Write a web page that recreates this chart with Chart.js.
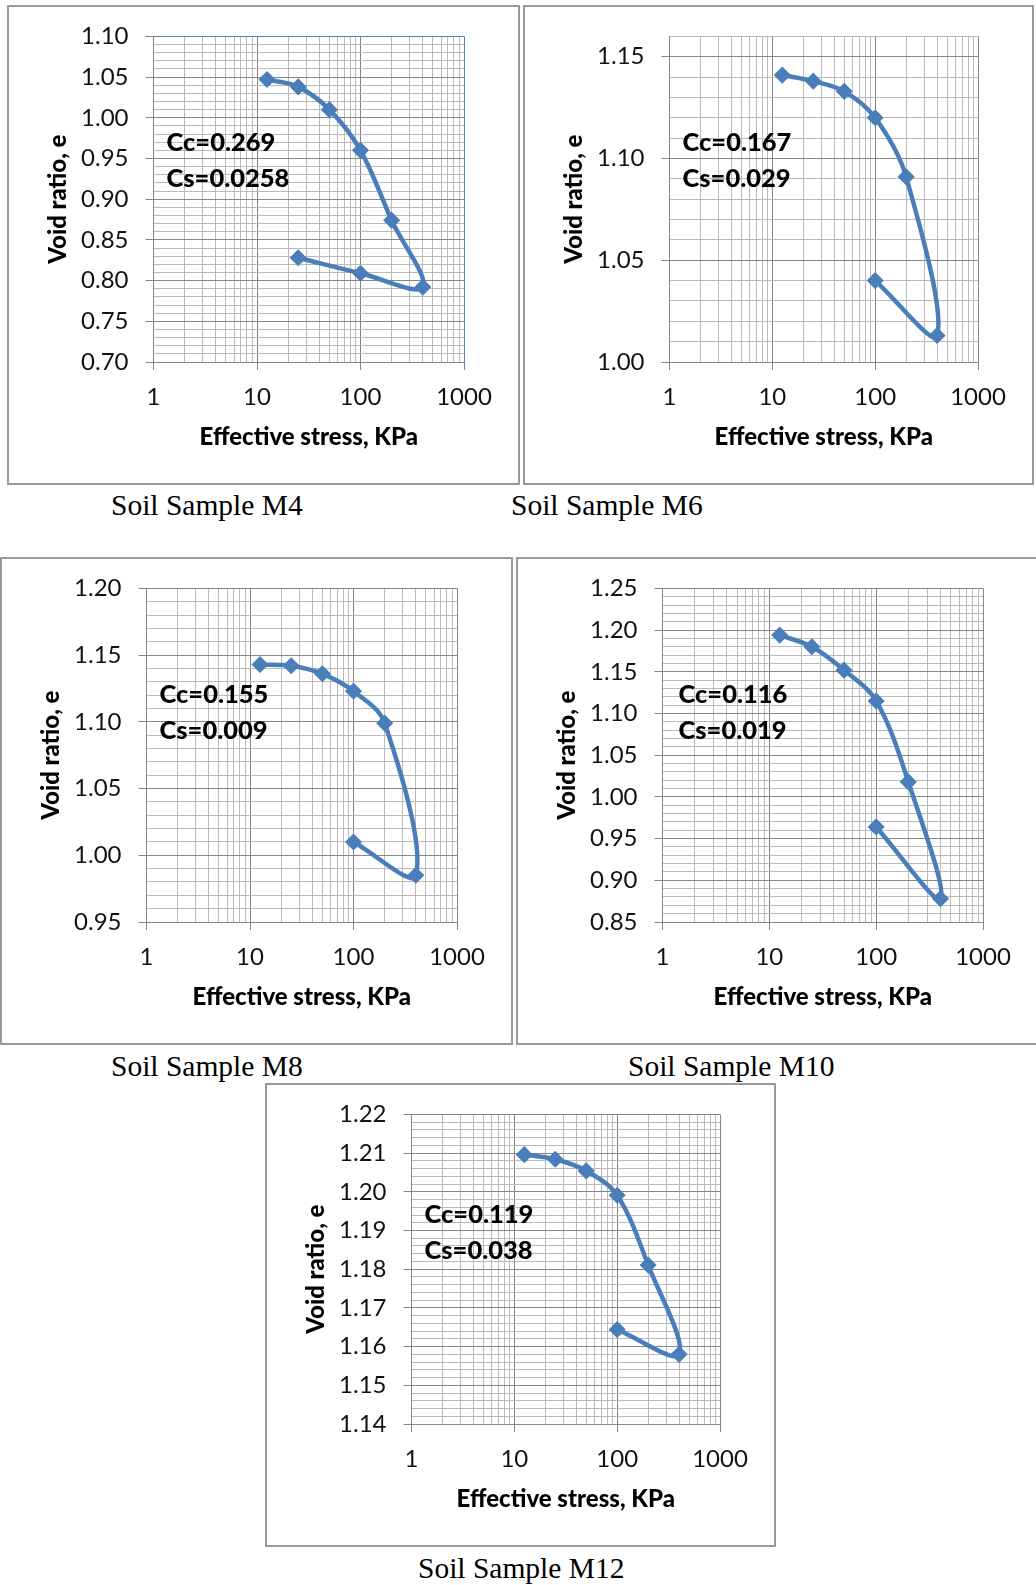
<!DOCTYPE html>
<html>
<head>
<meta charset="utf-8">
<script src="https://cdn.jsdelivr.net/npm/chart.js@4.4.1/dist/chart.umd.min.js"></script>
<style>
  html, body { margin: 0; padding: 0; background: #fff; }
  body { width: 1036px; height: 1585px; position: relative; overflow: hidden; }
  .frame { position: absolute; box-sizing: border-box; border: 2px solid #9a9a9a; }
  canvas.plot { position: absolute; }
  .caption {
    position: absolute; white-space: nowrap; color: #000;
    font-family: "Liberation Serif", "Times New Roman", serif;
    font-size: 29.5px; line-height: 29px;
  }
</style>
</head>
<body>
<script>
// Oedometer results: effective stress (kPa) for the loading steps followed by unloading
const stressM4  = [12.5, 25, 50, 100, 200, 400, 100, 25];
const stressM6  = [12.5, 25, 50, 100, 200, 400, 100];
const stressM8  = [12.5, 25, 50, 100, 200, 400, 100];
const stressM10 = [12.5, 25, 50, 100, 200, 400, 100];
const stressM12 = [12.5, 25, 50, 100, 200, 400, 100];

// Void ratio at each stress step
const voidM4  = [1.047, 1.038, 1.010, 0.960, 0.874, 0.792, 0.809, 0.828];
const voidM6  = [1.141, 1.138, 1.133, 1.120, 1.091, 1.013, 1.040];
const voidM8  = [1.143, 1.142, 1.136, 1.123, 1.099, 0.985, 1.010];
const voidM10 = [1.194, 1.180, 1.152, 1.115, 1.018, 0.878, 0.964];
const voidM12 = [1.2096, 1.2084, 1.2054, 1.1991, 1.1811, 1.1580, 1.1644];

// Compression and swelling indices
const ccValues = ['0.269', '0.167', '0.155', '0.116', '0.119'];
const csValues = ['0.0258', '0.029', '0.009', '0.019', '0.038'];

// Axis tick labels
const xTickLabels   = ['1', '10', '100', '1000'];
const yTicksM4  = ['0.70', '0.75', '0.80', '0.85', '0.90', '0.95', '1.00', '1.05', '1.10'];
const yTicksM6  = ['1.00', '1.05', '1.10', '1.15'];
const yTicksM8  = ['0.95', '1.00', '1.05', '1.10', '1.15', '1.20'];
const yTicksM10 = ['0.85', '0.90', '0.95', '1.00', '1.05', '1.10', '1.15', '1.20', '1.25'];
const yTicksM12 = ['1.14', '1.15', '1.16', '1.17', '1.18', '1.19', '1.20', '1.21', '1.22'];

const sampleNames = ['Soil Sample M4', 'Soil Sample M6', 'Soil Sample M8', 'Soil Sample M10', 'Soil Sample M12'];

// Panel geometry and axis ranges
const panels = [
  { stress: stressM4,  e: voidM4,  yTicks: yTicksM4,  yMin: 0.70, yMax: 1.10, minor: 0.01,  box: [7, 5, 513, 480],    blueEdge: true,  note: [13, 106.5], cap: [111, 515] },
  { stress: stressM6,  e: voidM6,  yTicks: yTicksM6,  yMin: 1.00, yMax: 1.16, minor: 0.01,  box: [523, 5, 511, 480],  blueEdge: false, note: [13, 106.5], cap: [511, 515] },
  { stress: stressM8,  e: voidM8,  yTicks: yTicksM8,  yMin: 0.95, yMax: 1.20, minor: 0.01,  box: [0, 557, 513, 488],  blueEdge: false, note: [13, 106.5], cap: [111, 1076] },
  { stress: stressM10, e: voidM10, yTicks: yTicksM10, yMin: 0.85, yMax: 1.25, minor: 0.01,  box: [516, 557, 523, 488], blueEdge: false, note: [16, 106.5], cap: [628, 1076] },
  { stress: stressM12, e: voidM12, yTicks: yTicksM12, yMin: 1.14, yMax: 1.22, minor: 0.002, box: [265, 1083, 511, 464], blueEdge: false, note: [13, 100.5], cap: [418, 1578] }
];

const AXIS_LEFT = 146.5, AXIS_BOTTOM = 123, PAD_TOP = 29.5, PAD_RIGHT = 56;
const LINE_BLUE = '#4A7EBB';
const EDGE_BLUE = '#4F81BD';
const MAJOR_GRID = '#868686';
const MINOR_GRID = '#bababa';
const TICK_FONT = { family: 'Lato', size: 24 };
const TITLE_FONT = { family: 'Lato', size: 24, weight: '900' };

const isPow10 = v => Math.abs(Math.log10(v) - Math.round(Math.log10(v))) < 1e-9;

// log grid: 1..9, 10..90, 100..900, 1000
const xGrid = [];
[1, 10, 100].forEach(d => { for (let k = 1; k <= 9; k++) xGrid.push(k * d); });
xGrid.push(1000);

// Cc / Cs text block inside the plot area
const coefLabels = {
  id: 'coefLabels',
  afterDraw(chart, args, opts) {
    const { ctx, chartArea } = chart;
    ctx.save();
    ctx.font = '900 25.5px Lato';
    ctx.fillStyle = '#000';
    ctx.textAlign = 'left';
    ctx.textBaseline = 'middle';
    const x = chartArea.left + opts.dx;
    const y = chartArea.top + opts.dy;
    ctx.fillText('Cc=' + opts.cc, x, y);
    ctx.fillText('Cs=' + opts.cs, x, y + 35.5);
    ctx.restore();
  }
};

panels.forEach((p, idx) => {
  const [left, top, w, h] = p.box;

  const frame = document.createElement('div');
  frame.className = 'frame';
  Object.assign(frame.style, { left: left + 'px', top: top + 'px', width: w + 'px', height: h + 'px' });
  document.body.appendChild(frame);

  const cv = document.createElement('canvas');
  cv.className = 'plot';
  cv.width = w; cv.height = h;
  Object.assign(cv.style, { left: left + 'px', top: top + 'px', width: w + 'px', height: h + 'px' });
  document.body.appendChild(cv);

  const cap = document.createElement('div');
  cap.className = 'caption';
  cap.textContent = sampleNames[idx];
  cap.style.left = p.cap[0] + 'px';
  cap.style.top = (p.cap[1] - 24.5) + 'px';
  document.body.appendChild(cap);

  const majorVals = p.yTicks.map(Number);
  const nMinor = Math.round((p.yMax - p.yMin) / p.minor);
  const yGrid = [];
  for (let i = 0; i <= nMinor; i++) yGrid.push(+(p.yMin + i * p.minor).toFixed(4));
  const yLabel = v => {
    const k = majorVals.findIndex(m => Math.abs(m - v) < 1e-6);
    return k >= 0 ? p.yTicks[k] : '';
  };
  const xLabel = v => {
    const k = [1, 10, 100, 1000].findIndex(m => Math.abs(m - v) < 1e-9);
    return k >= 0 ? xTickLabels[k] : '';
  };

  new Chart(cv, {
    type: 'line',
    data: {
      datasets: [{
        data: p.stress.map((s, i) => ({ x: s, y: p.e[i] })),
        borderColor: LINE_BLUE,
        backgroundColor: LINE_BLUE,
        borderWidth: 4.5,
        tension: 0.35,
        fill: false,
        pointStyle: 'rectRot',
        pointRadius: 7.5,
        pointBorderWidth: 1.5,
        pointBackgroundColor: LINE_BLUE,
        pointBorderColor: LINE_BLUE
      }]
    },
    options: {
      responsive: false,
      animation: false,
      devicePixelRatio: 1,
      layout: { padding: { top: PAD_TOP, right: PAD_RIGHT, left: 0, bottom: 0 } },
      plugins: {
        legend: { display: false },
        tooltip: { enabled: false },
        coefLabels: { cc: ccValues[idx], cs: csValues[idx], dx: p.note[0], dy: p.note[1] }
      },
      scales: {
        x: {
          type: 'logarithmic',
          min: 1, max: 1000,
          afterBuildTicks: s => { s.ticks = xGrid.map(v => ({ value: v })); },
          afterFit: s => { s.height = AXIS_BOTTOM; },
          ticks: {
            autoSkip: false, maxRotation: 0, minRotation: 0, padding: 13,
            color: '#111', font: TICK_FONT,
            callback: v => xLabel(v)
          },
          grid: {
            lineWidth: 1,
            tickLength: 8,
            color: c => {
              const v = c.tick.value;
              if (p.blueEdge && v === 1000) return EDGE_BLUE;
              return isPow10(v) ? MAJOR_GRID : MINOR_GRID;
            },
            tickColor: c => isPow10(c.tick.value) ? MAJOR_GRID : 'rgba(0,0,0,0)'
          },
          border: { color: MAJOR_GRID, width: 1 },
          title: {
            display: true, text: 'Effective stress, KPa', color: '#000',
            font: TITLE_FONT,
            padding: { top: 0, bottom: 33 }
          }
        },
        y: {
          type: 'linear',
          min: p.yMin, max: p.yMax,
          afterBuildTicks: s => { s.ticks = yGrid.map(v => ({ value: v })); },
          afterFit: s => { s.width = AXIS_LEFT; },
          ticks: {
            autoSkip: false, padding: 17,
            color: '#111', font: TICK_FONT,
            callback: v => yLabel(v)
          },
          grid: {
            lineWidth: 1,
            tickLength: 8,
            color: c => {
              const v = c.tick.value;
              if (p.blueEdge && Math.abs(v - p.yMax) < 1e-6) return EDGE_BLUE;
              return yLabel(v) ? MAJOR_GRID : MINOR_GRID;
            },
            tickColor: c => yLabel(c.tick.value) ? MAJOR_GRID : 'rgba(0,0,0,0)'
          },
          border: { color: MAJOR_GRID, width: 1 },
          title: {
            display: true, text: 'Void ratio, e', color: '#000',
            font: TITLE_FONT,
            padding: { top: 37, bottom: 0 }
          }
        }
      }
    },
    plugins: [coefLabels]
  });
});
</script>
</body>
</html>
